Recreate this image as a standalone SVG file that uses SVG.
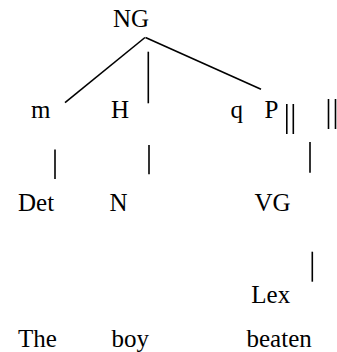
<svg xmlns="http://www.w3.org/2000/svg" width="337" height="352" viewBox="0 0 337 352">
<style>
text{font-family:'Liberation Serif','Times New Roman',serif;font-size:25px;fill:#000}
line{stroke:#000;stroke-width:1.6;stroke-linecap:butt}
</style>
<rect width="337" height="352" fill="#fff"/>
<g id="connectors">
<line x1="145" y1="37.5" x2="65" y2="102.7"/>
<line x1="148.3" y1="51.7" x2="148.3" y2="103.3"/>
<line x1="145.5" y1="37.5" x2="261" y2="89.3"/>
<line x1="55" y1="149.5" x2="55" y2="179"/>
<line x1="149" y1="145" x2="149" y2="174.3"/>
<line x1="286.8" y1="104" x2="286.8" y2="134"/>
<line x1="293.3" y1="104" x2="293.3" y2="134"/>
<line x1="328.5" y1="99" x2="328.5" y2="129"/>
<line x1="335.5" y1="99" x2="335.5" y2="129"/>
<line x1="310" y1="142" x2="310" y2="172.7"/>
<line x1="312.3" y1="251.7" x2="312.3" y2="281.7"/>
</g>
<g id="NG"><text x="113" y="26.7">NG</text></g>
<g id="m"><text x="31" y="118.3">m</text></g>
<g id="H"><text x="111" y="118.3">H</text></g>
<g id="q"><text x="230.5" y="118.3">q</text></g>
<g id="P"><text x="264.5" y="118.3">P</text></g>
<g id="Det"><text x="18" y="210.7">Det</text></g>
<g id="N"><text x="109.5" y="210.7">N</text></g>
<g id="VG"><text x="254.5" y="210.7">VG</text></g>
<g id="Lex"><text x="251.3" y="302.8">Lex</text></g>
<g id="The"><text x="18" y="346.7">The</text></g>
<g id="boy"><text x="111.5" y="346.7">boy</text></g>
<g id="beaten"><text x="246.5" y="346.7">beaten</text></g>
</svg>
